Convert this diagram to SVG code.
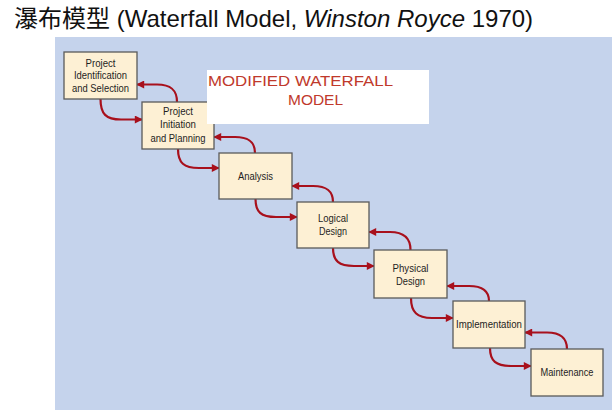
<svg xmlns="http://www.w3.org/2000/svg" width="612" height="410" viewBox="0 0 612 410">
<defs>
<style>
.bg{fill:#c5d3ec}
.box{fill:#fdf0d4;stroke:#5a5a5a;stroke-width:1.3}
.lbl{font-family:"Liberation Sans",Arial,sans-serif;font-size:11px;fill:#1e1e1e;text-anchor:middle}
.conn{fill:none;stroke:#a8101c;stroke-width:2.2;marker-end:url(#ah)}
.title{font-family:"Liberation Sans","Noto Sans CJK SC",sans-serif;font-size:24px;fill:#111}
.mod{font-family:"Liberation Sans",Arial,sans-serif;font-size:15.5px;fill:#c0392b}
</style>
<marker id="ah" viewBox="0 0 10 10" refX="9" refY="5" markerUnits="userSpaceOnUse" markerWidth="10" markerHeight="8" orient="auto">
<path d="M0,0 L10,5 L0,10 Z" fill="#a8101c"/>
</marker>
</defs>
<rect width="612" height="410" fill="#ffffff"/>
<text class="title" x="14" y="27"><tspan font-family="'Noto Sans CJK SC',sans-serif">瀑布模型</tspan> (Waterfall Model, <tspan font-style="italic">Winston Royce</tspan> 1970)</text>
<rect class="bg" x="55" y="37" width="557" height="373"/>
<g id="connectors">
<path class="conn" d="M100.5,99 C100.5,114 106,119.5 121,119.5 L142,119.5"/>
<path class="conn" d="M177,102 C177,90 171,84.5 157,84.5 L137,84.5"/>
<path class="conn" d="M178,149 C178,163 184,168 199,168 L219,168"/>
<path class="conn" d="M255,153 C255,142 249,137 235,137 L214,137"/>
<path class="conn" d="M255.5,199 C255.5,212 261,217 276,217 L297,217"/>
<path class="conn" d="M333,202 C333,191 327,186 313,186 L292,186"/>
<path class="conn" d="M333,248 C333,261 339,266 354,266 L374,266"/>
<path class="conn" d="M410.5,250 C410.5,238 404,232 390,232 L369,232"/>
<path class="conn" d="M411,298 C411,312 417,318 432,318 L453,318"/>
<path class="conn" d="M489,301 C489,291 483,286 469,286 L447,286"/>
<path class="conn" d="M490,348 C490,361 496,366 511,366 L531,366"/>
<path class="conn" d="M567,349 C567,338 561,332.5 547,332.5 L525,332.5"/>
</g>
<g id="n1">
<rect class="box" x="64" y="52" width="73" height="47"/>
<text class="lbl" x="100.5" y="66.5" textLength="30" lengthAdjust="spacingAndGlyphs">Project</text>
<text class="lbl" x="100.5" y="79.3" textLength="53" lengthAdjust="spacingAndGlyphs">Identification</text>
<text class="lbl" x="100.5" y="92.2" textLength="57" lengthAdjust="spacingAndGlyphs">and Selection</text>
</g>
<g id="n2">
<rect class="box" x="142" y="102" width="72" height="47"/>
<text class="lbl" x="178" y="115.3" textLength="30" lengthAdjust="spacingAndGlyphs">Project</text>
<text class="lbl" x="178" y="128.4" textLength="36" lengthAdjust="spacingAndGlyphs">Initiation</text>
<text class="lbl" x="178" y="141.6" textLength="55" lengthAdjust="spacingAndGlyphs">and Planning</text>
</g>
<g id="n3">
<rect class="box" x="219" y="153" width="73" height="46"/>
<text class="lbl" x="255.5" y="179.5" textLength="35" lengthAdjust="spacingAndGlyphs">Analysis</text>
</g>
<g id="n4">
<rect class="box" x="297" y="202" width="72" height="46"/>
<text class="lbl" x="333" y="222.3" textLength="30" lengthAdjust="spacingAndGlyphs">Logical</text>
<text class="lbl" x="333" y="234.5" textLength="28" lengthAdjust="spacingAndGlyphs">Design</text>
</g>
<g id="n5">
<rect class="box" x="374" y="250" width="73" height="48"/>
<text class="lbl" x="410.5" y="271.7" textLength="36" lengthAdjust="spacingAndGlyphs">Physical</text>
<text class="lbl" x="410.5" y="284.8" textLength="29" lengthAdjust="spacingAndGlyphs">Design</text>
</g>
<g id="n6">
<rect class="box" x="453" y="301" width="72" height="47"/>
<text class="lbl" x="489" y="327.5" textLength="66" lengthAdjust="spacingAndGlyphs">Implementation</text>
</g>
<g id="n7">
<rect class="box" x="531" y="349" width="72" height="47"/>
<text class="lbl" x="567" y="376" textLength="53" lengthAdjust="spacingAndGlyphs">Maintenance</text>
</g>
<g id="note">
<rect x="207" y="70" width="222" height="54" fill="#ffffff"/>
<text class="mod" x="208" y="86" textLength="185" lengthAdjust="spacingAndGlyphs">MODIFIED WATERFALL</text>
<text class="mod" x="288" y="105" textLength="55" lengthAdjust="spacingAndGlyphs">MODEL</text>
</g>
</svg>
